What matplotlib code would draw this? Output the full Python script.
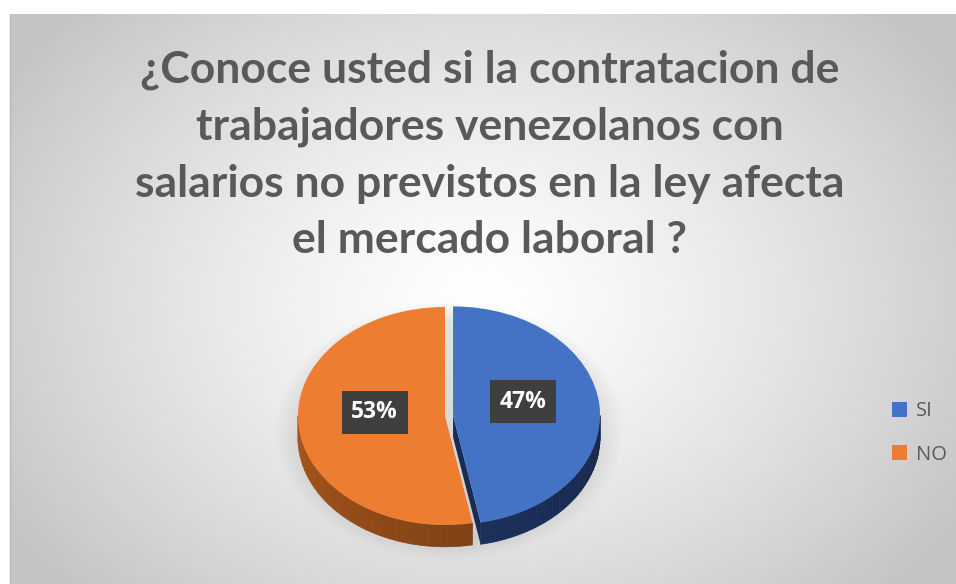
import numpy as np
import matplotlib.pyplot as plt
from matplotlib.patches import Polygon, Ellipse
from matplotlib.colors import to_rgb

categories = ['SI', 'NO']
values = [47, 53]
colors = ['#4472C4', '#ED7D31']
side_colors = [('#22396a', '#17284d'), ('#a8561c', '#5e2f0e')]
title = '¿Conoce usted si la contratacion de\ntrabajadores venezolanos con\nsalarios no previstos en la ley afecta\nel mercado laboral ?'

W, H = 956, 584
fig = plt.figure(figsize=(W / 100, H / 100), dpi=100)

# background with radial gradient (chart area)
bg = fig.add_axes([0, 0, 1, 1])
bg.set_xlim(0, W)
bg.set_ylim(H, 0)
bg.axis('off')
yy, xx = np.mgrid[14:H, 10:W]
d = np.sqrt(((xx - 480) / 560.0) ** 2 + ((yy - 300) / 420.0) ** 2)
shade = 1.0 - 0.23 * np.clip(d, 0, 1) ** 1.3
bg.imshow(np.dstack([shade] * 3), extent=(10, W, H, 14), aspect='auto', zorder=0)
bg.plot([10, 10], [14, H], color='#b8b8b8', lw=1)

# pie axes: 1 unit = 147 px in x, 109 px in y, centered at (445, 416)
rx, ry, cx, cy = 147, 109, 445, 416
x0, x1, y0, y1 = -1.6, 1.6, -1.5, 1.5
ax = fig.add_axes([(cx + x0 * rx) / W, (H - cy + y0 * ry) / H,
                   (x1 - x0) * rx / W, (y1 - y0) * ry / H])
ax.patch.set_alpha(0)

wedges, texts, autotexts = ax.pie(values, colors=colors, startangle=90, counterclock=False,
                                  explode=[0.055, 0], autopct='%1.0f%%', pctdistance=0.48,
                                  wedgeprops=dict(linewidth=0, zorder=5),
                                  textprops=dict(color='white', fontsize=16.5, fontweight='bold',
                                                 family='Open Sans'))
ax.set_aspect('auto')
ax.set_xlim(x0, x1)
ax.set_ylim(y0, y1)

depth = 0.2

# soft shadow under the pie
for k in range(8):
    ax.add_patch(Ellipse((0.03, -0.14), 2.0 + 0.05 * k, 2.0 + 0.05 * k,
                         facecolor='#9a9a9a', alpha=0.035, lw=0, zorder=1))


def arc(c, t1, t2, n=60):
    t = np.radians(np.linspace(t1, t2, n))
    return np.column_stack([c[0] + np.cos(t), c[1] + np.sin(t)])


for w, (c_light, c_dark) in zip(wedges, side_colors):
    c = w.center
    t1, t2 = w.theta1, w.theta2
    # visible front arc (angles 180..360)
    lo, hi = t1 % 360, t1 % 360 + (t2 - t1)
    segs = []
    for s in (0, 360):
        a, b = max(lo, 180 + s), min(hi, 360 + s)
        if b > a:
            segs.append((a, b))
    cl, cd = np.array(to_rgb(c_light)), np.array(to_rgb(c_dark))
    for a, b in segs:
        n = 40
        ang = np.linspace(a, b, n + 1)
        for i in range(n):
            p = arc(c, ang[i], ang[i + 1], 4)
            poly = np.vstack([p, p[::-1] - [0, depth]])
            f = ((ang[i] % 360) - 180) / 180.0
            col = cl * (1 - f) + cd * f
            ax.add_patch(Polygon(poly, closed=True, facecolor=col, edgecolor=col,
                                 lw=0.5, zorder=3))
    # radial cut face facing the viewer
    tr = np.radians(t1)
    if np.sin(tr - np.pi / 2) < 0 and w is wedges[0]:
        e = (c[0] + np.cos(tr), c[1] + np.sin(tr))
        face = [c, e, (e[0], e[1] - depth), (c[0], c[1] - depth)]
        ax.add_patch(Polygon(face, closed=True, facecolor='#1a2c52', lw=0, zorder=4))

for t in autotexts:
    x, y = t.get_position()
    t.set_position((x, y + 0.08))
    t.set_zorder(10)
    t.set_bbox(dict(facecolor='#3f3f3f', edgecolor='none', boxstyle='square,pad=0.42'))

fig.text(490 / W, 1 - 155 / H, title, ha='center', va='center', fontsize=32,
         fontweight='bold', color='#595959', family='Lato', linespacing=1.5)

fig.legend(wedges, categories, loc='center left', bbox_to_anchor=(892 / W, 1 - 433 / H),
           frameon=False, labelcolor='#595959', handlelength=0.75, borderaxespad=0,
           borderpad=0, handleheight=0.75, handletextpad=0.45, labelspacing=1.15,
           prop=dict(family='Open Sans', size=14.5))

fig.savefig('out.png', dpi=100)
